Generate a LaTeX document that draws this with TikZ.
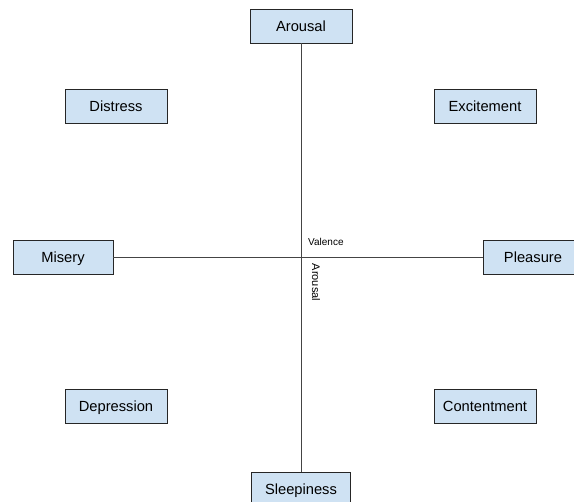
\documentclass[tikz,border=0pt]{standalone}
\usepackage{fontspec}
\setmainfont{Liberation Sans}
\definecolor{boxblue}{HTML}{CFE2F3}
\definecolor{axisgray}{HTML}{444444}

\begin{document}
\begin{tikzpicture}[
  x=1pt, y=-1pt,
  font=\fontsize{14.7}{17}\selectfont,
  emo/.style={rectangle, draw=black!85, fill=boxblue, line width=0.8pt,
              minimum width=102pt, minimum height=34pt, inner sep=0pt,
              text height=10.5pt, text depth=0pt},
  axis/.style={draw=axisgray, line width=0.8pt},
  lbl/.style={font=\fontsize{10}{12}\selectfont, inner sep=0pt}
]
\useasboundingbox (0,0) rectangle (574,502);

%======================
% EMOTION BOXES
%======================

% nodes
\node[emo] (arousal) at (301,26) {Arousal};
\node[emo] (distress) at (116,106.5) {Distress};
\node[emo] (excite) at (485,106.5) {Excitement};
\node[emo, minimum width=100pt] (misery) at (63,257) {Misery};
\node[emo, minimum width=100pt] (pleasure) at (533,257) {Pleasure};
\node[emo] (depress) at (116,406) {Depression};
\node[emo] (content) at (485,406) {Contentment};
\node[emo, minimum width=99pt] (sleepy) at (301,489) {Sleepiness};

%======================
% AXES
%======================

\draw[axis] (arousal) -- (sleepy);
\draw[axis] (misery) -- (pleasure);

% axis names
\node[lbl, anchor=west] (valence) at (308,242) {Valence};
\node[lbl, rotate=-90, font=\fontsize{11}{13}\selectfont] (arousallbl) at (316,282.5) {Arousal};

\end{tikzpicture}
\end{document}
